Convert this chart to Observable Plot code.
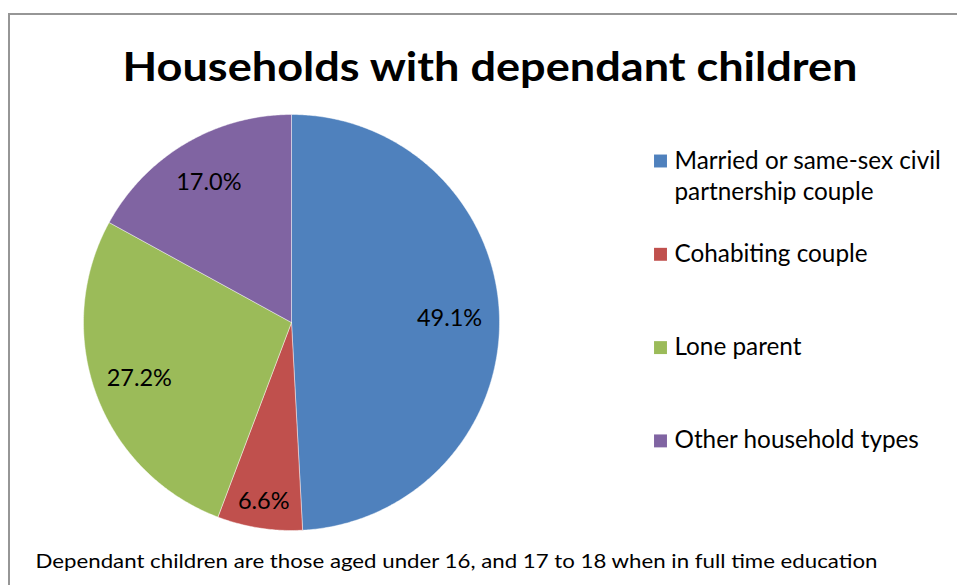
<!DOCTYPE html>
<html><head><meta charset="utf-8">
<script src="https://cdn.jsdelivr.net/npm/d3@7"></script>
<script src="https://cdn.jsdelivr.net/npm/@observablehq/plot@0.6"></script>
<style>
html,body{margin:0;padding:0;background:#fff;}
#wrap{position:relative;width:957px;height:585px;overflow:hidden;}
#border{position:absolute;left:8px;top:13px;width:1000px;height:1000px;border-left:2px solid #969696;border-top:2px solid #969696;pointer-events:none;}
</style></head><body><div id="wrap"><div id="chart"></div><div id="border"></div></div>
<script>
const title = "Households with dependant children";
const caption = "Dependant children are those aged under 16, and 17 to 18 when in full time education";
const categories = ["Married or same-sex civil partnership couple", "Cohabiting couple", "Lone parent", "Other household types"];
const legendLabels = ["Married or same-sex civil\npartnership couple", "Cohabiting couple", "Lone parent", "Other household types"];
const values = [49.1, 6.6, 27.2, 17.0];
const colors = ["#4F81BD", "#C0504D", "#9BBB59", "#8064A2"];
const labelRadius = [0.76, 0.87, 0.78, 0.78];

// layout
const W = 957, H = 585, cx = 291, cy = 322, R = 208;
const FONT = "Lato";

const total = d3.sum(values);
let acc = 0;
const slices = values.map((v, i) => {
  const a0 = acc / total * 2 * Math.PI; acc += v;
  const a1 = acc / total * 2 * Math.PI;
  return {cat: categories[i], value: v, a0, a1, i};
});
const pts = [];
for (const s of slices) {
  pts.push({cat: s.cat, x: 0, y: 0});
  const n = Math.max(2, Math.ceil((s.a1 - s.a0) / (Math.PI / 360)));
  for (let k = 0; k <= n; k++) {
    const a = s.a0 + (s.a1 - s.a0) * k / n;
    pts.push({cat: s.cat, x: Math.sin(a), y: Math.cos(a)});
  }
  pts.push({cat: s.cat, x: 0, y: 0});
}
const labels = slices.map(s => {
  const m = (s.a0 + s.a1) / 2, k = labelRadius[s.i];
  return {x: k * Math.sin(m), y: k * Math.cos(m), text: s.value.toFixed(1) + "%"};
});

const legendFs = 24.3, legendBase = 168, legendStep = 93.3, legendLine = 31;
const legendMarks = legendLabels.flatMap((lab, i) => {
  const base = legendBase + i * legendStep;
  const lines = lab.split("\n");
  return [
    Plot.dot([categories[i]], {frameAnchor: "top-left", dx: 660, dy: base - 7.5, r: 7.3, symbol: "square", fill: d => d, stroke: "none"}),
    ...lines.map((ln, j) => Plot.text([ln], {text: d => d, frameAnchor: "top-left", lineAnchor: "middle", dx: 674, dy: base + j * legendLine - 0.32 * legendFs, textAnchor: "start", fontSize: legendFs, fontFamily: FONT, fill: "#000"}))
  ];
});

const titleFs = 40, capFs = 19;
const chart = Plot.plot({
  width: W, height: H, margin: 0,
  style: {fontFamily: FONT, background: "transparent"},
  x: {domain: [-1, 1], range: [cx - R, cx + R], axis: null},
  y: {domain: [-1, 1], range: [cy + R, cy - R], axis: null},
  color: {domain: categories, range: colors},
  marks: [
    Plot.line(pts, {x: "x", y: "y", z: "cat", fill: "cat", stroke: "#ffffff", strokeWidth: 0.8, strokeOpacity: 0.55, curve: "linear"}),
    Plot.text(labels, {x: "x", y: "y", text: "text", lineAnchor: "middle", fontSize: 23.5, fontFamily: FONT, fill: "#000"}),
    Plot.text([title], {text: d => d, frameAnchor: "top-left", lineAnchor: "middle", dx: 489.5, dy: 80 - 0.32 * titleFs, textAnchor: "middle", fontSize: titleFs, fontWeight: "bold", fontFamily: FONT, fill: "#000"}),
    Plot.text([caption], {text: d => d, frameAnchor: "top-left", lineAnchor: "middle", dx: 35, dy: 567 - 0.32 * capFs, textAnchor: "start", fontSize: capFs, fontFamily: FONT, fill: "#000"}),
    ...legendMarks
  ]
});
d3.select(chart).selectAll("text").each(function() {
  const t = this.textContent;
  if (t === title) { this.setAttribute("textLength", 735); this.setAttribute("lengthAdjust", "spacingAndGlyphs"); }
  if (t === caption) { this.setAttribute("textLength", 842); this.setAttribute("lengthAdjust", "spacingAndGlyphs"); }
});
document.getElementById("chart").appendChild(chart);
</script></body></html>
